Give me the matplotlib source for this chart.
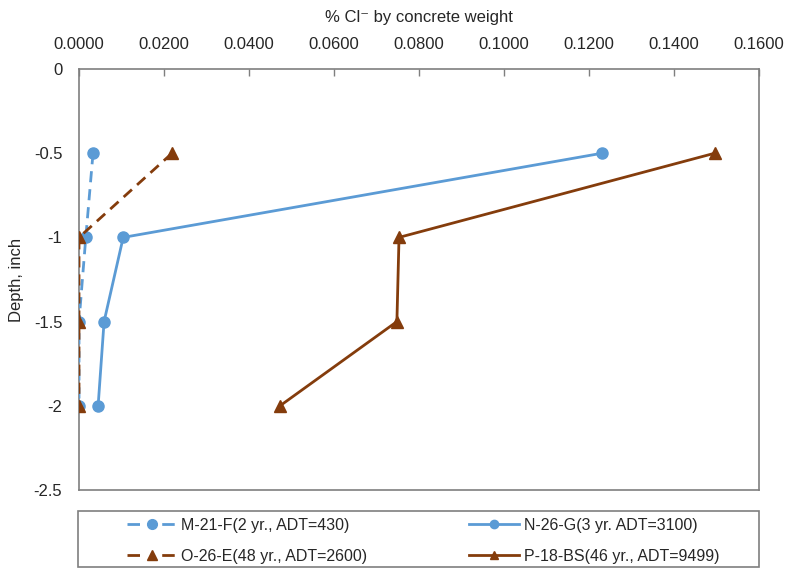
import matplotlib
matplotlib.use("Agg")
import matplotlib.pyplot as plt
from matplotlib.lines import Line2D
from matplotlib.patches import Rectangle

plt.rcParams['font.family'] = ['Liberation Sans', 'DejaVu Sans']

# Chloride content (% by concrete weight) at each sampling depth (inch)
depth = [-0.5, -1.0, -1.5, -2.0]
m21f = [0.0033, 0.0016, 0.0000, 0.0000]
n26g = [0.1231, 0.0104, 0.0059, 0.0045]
o26e = [0.0219, 0.0000, 0.0000, 0.0000]
p18bs = [0.1496, 0.0753, 0.0748, 0.0473]

labels = ["M-21-F(2 yr., ADT=430)", "N-26-G(3 yr. ADT=3100)",
          "O-26-E(48 yr., ADT=2600)", "P-18-BS(46 yr., ADT=9499)"]

x_ticks = [0.0, 0.02, 0.04, 0.06, 0.08, 0.10, 0.12, 0.14, 0.16]
y_ticks = [0, -0.5, -1, -1.5, -2, -2.5]

blue = '#5B9BD5'
brown = '#843C0C'
grey = '#7F7F7F'
txt = '#262626'

W, H = 788, 569
fig = plt.figure(figsize=(W / 100, H / 100), dpi=100)
ax = fig.add_axes([79 / W, 1 - 490 / H, 680 / W, 421 / H])

dash = (4, 2.5)
ax.plot(m21f, depth, color=blue, lw=2, ls=(0, dash), marker='o', ms=8, zorder=3)
ax.plot(n26g, depth, color=blue, lw=2, ls='-', marker='o', ms=8, zorder=3)
ax.plot(o26e, depth, color=brown, lw=2, ls=(0, dash), marker='^', ms=8.5, zorder=4)
ax.plot(p18bs, depth, color=brown, lw=2, ls='-', marker='^', ms=8.5, zorder=4)

ax.set_xlim(0, 0.16)
ax.set_ylim(-2.5, 0)
ax.set_xticks(x_ticks)
ax.set_xticklabels([f"{v:.4f}" for v in x_ticks])
ax.set_yticks(y_ticks)
ax.set_yticklabels(["0", "-0.5", "-1", "-1.5", "-2", "-2.5"])

ax.xaxis.tick_top()
ax.xaxis.set_label_position('top')
ax.tick_params(axis='x', direction='in', length=5, width=1, color=grey,
               labelsize=12, labelcolor=txt, pad=12)
ax.tick_params(axis='y', length=0, labelsize=12, labelcolor=txt, pad=12)
for s in ax.spines.values():
    s.set_color(grey)
    s.set_linewidth(1.2)

ax.set_xlabel("% Cl\u207b by concrete weight", fontsize=12, color=txt, labelpad=11)
ax.set_ylabel("Depth, inch", fontsize=12, color=txt, labelpad=7)

# legend frame spanning the plot width
fig.add_artist(Rectangle((78 / W, 1 - 567 / H), 681 / W, 56 / H,
                         transform=fig.transFigure, facecolor='white',
                         edgecolor=grey, linewidth=1.2))

leg_dash = (0, (4.5, 8))
handles = [
    Line2D([], [], color=blue, lw=2, ls=leg_dash, marker='o', ms=7),
    Line2D([], [], color=brown, lw=2, ls=leg_dash, marker='^', ms=7),
    Line2D([], [], color=blue, lw=2, ls='-', marker='o', ms=6),
    Line2D([], [], color=brown, lw=2, ls='-', marker='^', ms=6),
]
order = [0, 2, 1, 3]
leg = fig.legend(handles, [labels[i] for i in order], ncol=2, loc='center',
                 bbox_to_anchor=(423 / W, 1 - 541 / H),
                 fontsize=11.5, frameon=False,
                 handlelength=3.1, handletextpad=0.3, columnspacing=6.4,
                 labelspacing=1.0, borderpad=0.3, borderaxespad=0)
for t in leg.get_texts():
    t.set_color(txt)

fig.savefig("out.png", dpi=100)
